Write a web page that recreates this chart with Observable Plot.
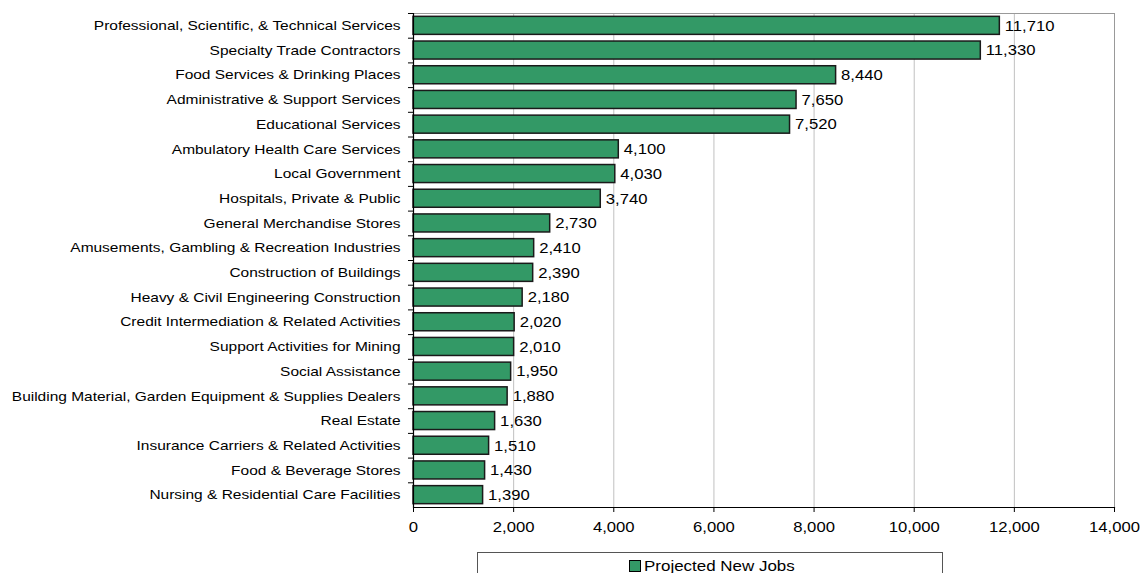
<!DOCTYPE html>
<html>
<head>
<meta charset="utf-8">
<script src="https://cdn.jsdelivr.net/npm/d3@7"></script>
<script src="https://cdn.jsdelivr.net/npm/@observablehq/plot@0.6"></script>
<style>
  body { margin: 0; background: #fff; font-family: "Liberation Sans", Arial, sans-serif; }
  #wrap { position: relative; width: 1141px; height: 573px; overflow: hidden; }
  #legend { position: absolute; left: 477px; top: 552px; width: 466px; height: 30px; border: 1px solid #555; box-sizing: border-box; background: #fff; font-size: 15px; }
  #legend .item { position: absolute; left: 151px; top: 4px; display: flex; align-items: center; white-space: nowrap; }
  #legend .sw { width: 10px; height: 10px; background: #339966; border: 1px solid #000; margin-right: 3px; }
  #legend #legtext { display: inline-block; transform: scaleX(1.13); transform-origin: left center; }
</style>
</head>
<body>
<div id="wrap">
  <div id="chart"></div>
  <div id="legend"><div class="item"><span class="sw"></span><span id="legtext"></span></div></div>
</div>
<script>
const categories = [
  "Professional, Scientific, & Technical Services",
  "Specialty Trade Contractors",
  "Food Services & Drinking Places",
  "Administrative & Support Services",
  "Educational Services",
  "Ambulatory Health Care Services",
  "Local Government",
  "Hospitals, Private & Public",
  "General Merchandise Stores",
  "Amusements, Gambling & Recreation Industries",
  "Construction of Buildings",
  "Heavy & Civil Engineering Construction",
  "Credit Intermediation & Related Activities",
  "Support Activities for Mining",
  "Social Assistance",
  "Building Material, Garden Equipment & Supplies Dealers",
  "Real Estate",
  "Insurance Carriers & Related Activities",
  "Food & Beverage Stores",
  "Nursing & Residential Care Facilities"
];
const values = [11710, 11330, 8440, 7650, 7520, 4100, 4030, 3740, 2730, 2410, 2390, 2180, 2020, 2010, 1950, 1880, 1630, 1510, 1430, 1390];
const xTicks = [0, 2000, 4000, 6000, 8000, 10000, 12000, 14000];
const seriesName = "Projected New Jobs";

const data = categories.map((c, i) => ({category: c, value: values[i]}));
const fmt = d3.format(",");

const mTop = 13, mBottom = 41, height = 548;
const step = (height - mTop - mBottom) / categories.length;

const chart = Plot.plot({
  width: 1141,
  height,
  marginLeft: 413,
  marginRight: 27,
  marginTop: mTop,
  marginBottom: mBottom,
  style: {fontFamily: "'Liberation Sans', Arial, sans-serif", fontSize: "13px", color: "#000", background: "#fff"},
  x: {domain: [0, 14000]},
  y: {domain: categories, paddingInner: 0.27, paddingOuter: 0.135, round: false},
  marks: [
    Plot.gridX(xTicks, {stroke: "#c0c0c0", strokeOpacity: 1}),
    Plot.frame({stroke: "#999"}),
    Plot.barX(data, {x: "value", y: "category", fill: "#339966", stroke: "#1a1a1a", strokeWidth: 1.5}),
    Plot.text(data, {x: "value", y: "category", text: d => fmt(d.value), textAnchor: "start", dx: 5, fontSize: 15, fill: "#000"}),
    Plot.ruleY(categories, {y: d => d, x1: -100, x2: 0, dy: -step / 2, stroke: "#000", clip: false}),
    Plot.ruleX([0], {stroke: "#000", strokeWidth: 1.2}),
    Plot.frame({anchor: "bottom", stroke: "#000", strokeWidth: 1.2}),
    Plot.axisX(xTicks, {tickFormat: d3.format(","), tickSize: 5, tickPadding: 9, fontSize: 15, label: null, stroke: "#000"}),
    Plot.axisY({tickSize: 0, tickPadding: 13, fontSize: 13, label: null})
  ]
});
document.getElementById("chart").appendChild(chart);
document.getElementById("legtext").textContent = seriesName;

// Widen glyphs horizontally to match the reference's stretched text
function stretch(selector, k) {
  chart.querySelectorAll(selector).forEach(t => {
    const len = t.getComputedTextLength();
    if (len > 0) {
      t.setAttribute("textLength", (len * k).toFixed(1));
      t.setAttribute("lengthAdjust", "spacingAndGlyphs");
    }
  });
}
stretch('g[aria-label="y-axis tick label"] text', 1.19);
stretch('g[aria-label="x-axis tick label"] text', 1.11);
stretch('g[aria-label="text"] text', 1.11);
</script>
</body>
</html>
